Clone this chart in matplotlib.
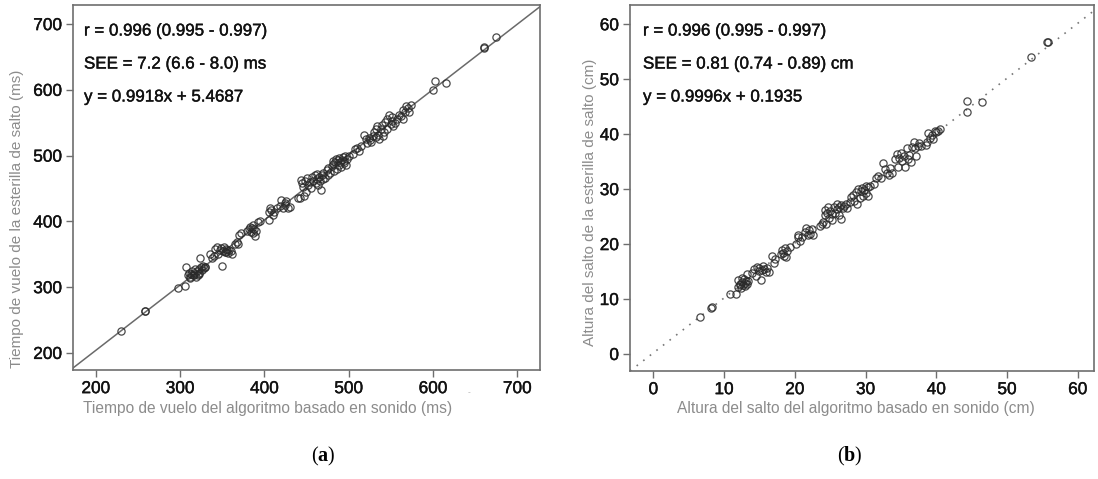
import matplotlib
matplotlib.use("Agg")
import matplotlib.pyplot as plt
import matplotlib.patheffects as pe

plt.rcParams['font.family'] = ['Liberation Sans', 'DejaVu Sans']
plt.rcParams['mathtext.fontset'] = 'custom'
plt.rcParams['mathtext.rm'] = 'Liberation Serif'
plt.rcParams['mathtext.bf'] = 'Liberation Serif:bold'

# (a) flight time: sound-based algorithm vs. jump mat (ms)
flight_sound = [230, 259, 258, 298, 306, 307,
                310, 311, 312, 313, 314, 315, 316, 318, 319, 320, 321, 322, 323, 324, 325, 326, 327, 328, 329, 312, 317, 322, 330,
                335, 338, 340, 342, 344, 345, 347, 349, 350, 351, 352, 353, 354, 355, 356, 357, 358, 360, 362,
                365, 367, 369, 370, 372,
                380, 382, 383, 384, 385, 386, 387, 388, 389, 390, 392, 395,
                405, 406, 407, 408, 410, 412, 415, 418, 420, 422, 424, 425, 426, 428, 430,
                440, 442, 444, 445, 446, 447, 448, 449, 450, 452, 454, 455, 456, 458, 460, 461, 462, 463, 464, 465, 466, 467, 468, 469, 470, 472, 474, 475, 476, 478,
                480, 481, 482, 483, 484, 485, 486, 487, 488, 489, 490, 491, 492, 493, 494, 495, 496, 497, 498, 500,
                505, 508, 510, 512, 515, 518, 520, 522, 524, 525, 527, 529, 530, 532, 533, 534, 535, 536, 538, 540, 541, 542, 543, 545, 546, 548, 550, 551, 552, 553, 555, 557, 560, 562, 564, 565, 567, 568, 570, 572, 574,
                600, 602, 615, 660, 661, 675]
flight_mat = [233, 263, 264, 298, 301, 331,
              318, 322, 316, 320, 325, 318, 321, 328, 315, 324, 319, 327, 322, 345, 330, 326, 332, 329, 331, 314, 318, 320, 331,
              350, 345, 347, 358, 361, 351, 357, 360, 332, 355, 361, 353, 358, 354, 357, 352, 356, 355, 351,
              366, 369, 365, 380, 382,
              385, 388, 392, 384, 390, 395, 382, 389, 378, 386, 399, 400,
              402, 414, 420, 418, 410, 414, 420, 424, 432, 420, 425, 428, 431, 420, 422,
              436, 435, 463, 458, 452, 438, 462, 445, 466, 455, 460, 450, 468, 462, 470, 458, 465, 472, 455, 467, 462, 448, 470, 464, 473, 466, 478, 470, 481, 474,
              484, 492, 487, 476, 490, 495, 480, 493, 486, 496, 490, 483, 494, 498, 488, 492, 500, 485, 495, 499,
              502, 510, 512, 507, 515, 532, 525, 519, 527, 523, 520, 530, 536, 528, 540, 545, 532, 525, 541, 547, 530, 536, 551, 555, 540, 562, 548, 553, 558, 545, 550, 556, 562, 560, 570, 555, 566, 575, 572, 567, 577,
              600, 613, 611, 664, 665, 681]

# (b) jump height: sound-based algorithm vs. jump mat (cm)
height_sound = [6.6, 8.3, 8.2, 10.9, 11.7,
                11.9, 12.0, 12.2, 12.4, 12.5, 12.7, 12.8, 12.9, 13.0, 13.1, 13.2, 13.3, 13.4, 12.3, 12.6,
                14.0, 14.3, 14.5, 14.7, 14.9, 15.0, 15.2, 15.3, 15.5, 15.7, 15.9, 16.0, 16.3,
                16.8, 17.0, 17.2,
                18.0, 18.2, 18.4, 18.5, 18.6, 18.8, 18.9, 19.3,
                20.2, 20.4, 20.5, 20.7, 21.0, 21.4, 21.6, 21.8, 22.0, 22.2, 22.4, 22.6,
                23.5, 23.8, 24.0, 24.2, 24.3, 24.4, 24.6, 24.7, 24.9, 25.0, 25.2, 25.3, 25.5, 25.7, 25.9, 26.0, 26.2, 26.3, 26.5, 26.6, 26.8, 27.0, 27.2, 27.4,
                27.8, 28.0, 28.2, 28.4, 28.6, 28.8, 29.0, 29.2, 29.3, 29.5, 29.6, 29.8, 30.0, 30.1, 30.3, 30.4, 30.6,
                31.2, 31.5, 31.8, 32.2, 32.5, 32.8, 33.0, 33.3, 33.5, 33.7,
                34.2, 34.5, 34.6, 34.8, 35.0, 35.2, 35.4, 35.6, 35.8, 36.0, 36.2, 36.4, 36.6, 36.8, 37.0, 37.2, 37.4, 37.6, 37.8,
                38.5, 38.7, 38.9, 39.1, 39.4, 39.6, 39.8, 40.0, 40.2, 40.5,
                44.3, 44.4, 46.4, 53.4, 55.7, 55.8]
height_mat = [6.7, 8.5, 8.4, 10.9, 11.0,
              13.4, 12.2, 12.8, 12.0, 13.1, 12.5, 13.6, 12.9, 12.3, 13.2, 12.7, 14.6, 13.3, 12.6, 13.8,
              14.8, 15.4, 14.2, 15.9, 15.1, 15.7, 13.5, 15.2, 16.0, 15.5, 14.9, 15.6, 15.0,
              17.8, 16.6, 17.2,
              18.2, 19.0, 18.4, 17.8, 19.3, 17.6, 18.8, 19.5,
              20.0, 21.2, 21.7, 20.6, 21.3, 22.2, 22.9, 21.7, 22.5, 21.8, 22.8, 21.6,
              23.3, 23.6, 24.1, 25.2, 26.2, 23.6, 25.6, 26.8, 24.8, 26.0, 25.4, 24.3, 26.7, 25.7, 27.2, 26.3, 25.3, 26.8, 24.5, 27.1, 26.5, 26.9, 27.3, 26.6,
              27.6, 28.6, 29.0, 27.8, 29.4, 27.2, 30.0, 28.4, 29.6, 30.2, 28.8, 29.8, 30.6, 29.2, 28.8, 30.3, 30.6,
              31.0, 32.0, 32.3, 32.1, 34.8, 33.6, 33.0, 32.6, 33.9, 32.9,
              35.5, 36.3, 34.0, 35.7, 36.5, 35.2, 36.0, 34.0, 37.5, 35.5, 36.2, 34.9, 37.7, 38.6, 37.4, 36.1, 37.8, 38.3, 37.9,
              38.0, 38.6, 40.2, 39.3, 39.9, 39.1, 40.5, 40.4, 40.6, 41.0,
              44.1, 46.1, 45.8, 54.1, 56.8, 56.7]

# Regression fits printed on each panel
fit_a = (0.9918, 5.4687)
fit_b = (0.9996, 0.1935)

ticks_a = [200, 300, 400, 500, 600, 700]
ticks_b = [0, 10, 20, 30, 40, 50, 60]

stats_a = ["r = 0.996 (0.995 - 0.997)",
           "SEE = 7.2 (6.6 - 8.0) ms",
           "y = 0.9918x + 5.4687"]
stats_b = ["r = 0.996 (0.995 - 0.997)",
           "SEE = 0.81 (0.74 - 0.89) cm",
           "y = 0.9996x + 0.1935"]

W, H = 1098, 479
fig = plt.figure(figsize=(W / 100, H / 100), dpi=100)

spine_col = '#6e6e6e'
label_col = '#8c8c8c'
heavy = [pe.withStroke(linewidth=0.3, foreground='#111111')]


def fx(px):
    return px / W


def fy(py):
    return 1 - py / H


def make_axes(box, xlim, ylim, ticks):
    x0, y0, x1, y1 = box
    ax = fig.add_axes([fx(x0), fy(y1), (x1 - x0) / W, (y1 - y0) / H])
    ax.set_xlim(*xlim)
    ax.set_ylim(*ylim)
    ax.set_xticks(ticks)
    ax.set_yticks(ticks)
    for s in ax.spines.values():
        s.set_color(spine_col)
        s.set_linewidth(1.2)
    ax.tick_params(direction='out', length=5, width=1, color=spine_col,
                   labelsize=12.4, labelcolor='#111111', pad=3)
    for lab in ax.get_xticklabels() + ax.get_yticklabels():
        lab.set_path_effects(heavy)
    return ax


def scatter(ax, xs, ys):
    ax.plot(xs, ys, linestyle='none', marker='o', markersize=5.2,
            markerfacecolor='none', markeredgecolor='#2a2a2a',
            markeredgewidth=0.9, alpha=0.85, zorder=3)


def stats(ax, x_px, lines):
    for i, t in enumerate(lines):
        fig.text(fx(x_px), fy(31 + i * 33), t, fontsize=12.2,
                 color='#111111', va='center', ha='left', path_effects=heavy)


# Panel (a)
ax1 = make_axes((73, 5, 540, 370), (173, 727), (174, 729), ticks_a)
ax1.axline((0, fit_a[1]), slope=fit_a[0], color='#6a6a6a', lw=1.1, zorder=2)
scatter(ax1, flight_sound, flight_mat)
stats(ax1, 84, stats_a)
fig.text(fx(268), fy(409), "Tiempo de vuelo del algoritmo basado en sonido (ms)",
         fontsize=11.2, color=label_col, ha='center', va='center')
fig.text(fx(17), fy(219), "Tiempo de vuelo de la esterilla de salto (ms)",
         fontsize=11.0, color=label_col, ha='center', va='center', rotation=90)
fig.text(fx(469), fy(393), "-", fontsize=6, color='#aaaaaa',
         ha='center', va='center')

# Panel (b)
ax2 = make_axes((630, 5, 1094, 371), (-3.3, 62.3), (-3.1, 63.5), ticks_b)
ax2.axline((0, fit_b[1]), slope=fit_b[0], color='#777777', lw=1.2,
           linestyle=(0, (1, 4)), zorder=2)
scatter(ax2, height_sound, height_mat)
stats(ax2, 643, stats_b)
fig.text(fx(856), fy(409), "Altura del salto del algoritmo basado en sonido (cm)",
         fontsize=11.2, color=label_col, ha='center', va='center')
fig.text(fx(590), fy(202), "Altura del salto de la esterilla de salto (cm)",
         fontsize=11.0, color=label_col, ha='center', va='center', rotation=90)

# Panel letters
fig.text(fx(323), fy(456), r'$\mathrm{(}\mathbf{a}\mathrm{)}$',
         fontsize=14.5, ha='center', va='center', color='black')
fig.text(fx(850), fy(456), r'$\mathrm{(}\mathbf{b}\mathrm{)}$',
         fontsize=14.5, ha='center', va='center', color='black')

fig.savefig("out.png", dpi=100, facecolor='white')
